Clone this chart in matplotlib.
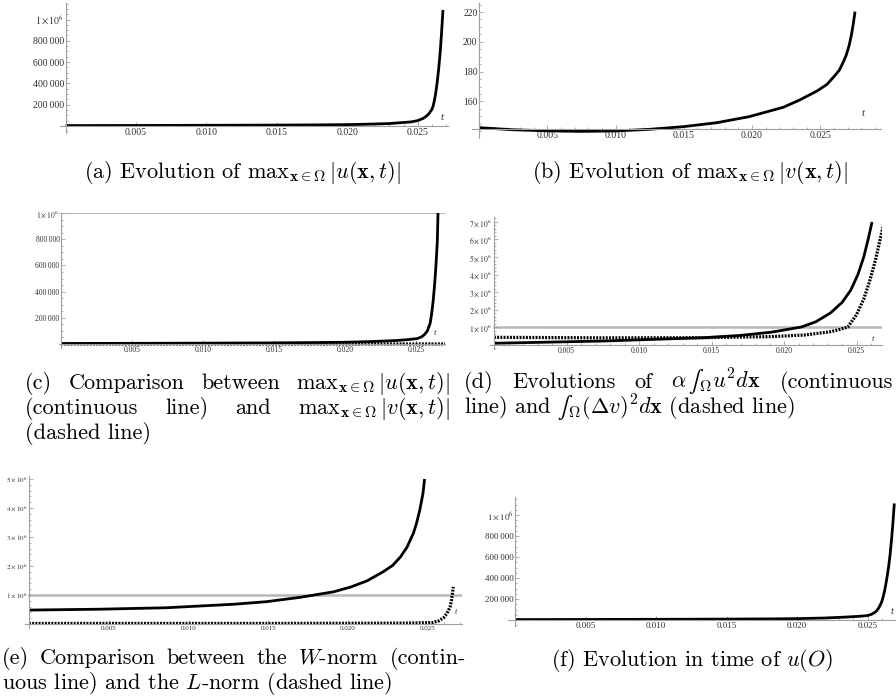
import matplotlib
matplotlib.use('Agg')
import matplotlib.pyplot as plt
from matplotlib.ticker import FixedLocator, MultipleLocator, FuncFormatter

plt.rcParams['font.family'] = ['Liberation Serif', 'DejaVu Serif']
plt.rcParams['mathtext.fontset'] = 'stix'

W, H = 896, 698
fig = plt.figure(figsize=(W / 100, H / 100), dpi=100)

# ---------------- data ----------------
t_ticks = [0.005, 0.010, 0.015, 0.020, 0.025]
t_tick_labels = ['0.005', '0.010', '0.015', '0.020', '0.025']

# (a) max |u|
ta = [0.0, 0.005, 0.010, 0.015, 0.018, 0.020, 0.021, 0.022, 0.023, 0.0235, 0.024, 0.0245, 0.025, 0.0254,
      0.0256, 0.0258, 0.0259, 0.0260, 0.0261, 0.0262, 0.0263, 0.0264, 0.0265, 0.0266, 0.0267, 0.0268]
ua = [4000, 5000, 6500, 8500, 10500, 13000, 15500, 19000, 23000, 28000, 33000, 38000, 50000, 72000,
      90000, 115000, 134000, 152000, 185000, 244000, 320000, 420000, 540000, 685000, 870000, 1090000]

# (b) max |v|
tb = [0.0, 0.0025, 0.0052, 0.0075, 0.0101, 0.0125, 0.0149, 0.0174, 0.0198, 0.0223, 0.0235, 0.0248,
      0.0255, 0.0260, 0.0264, 0.0267, 0.0269, 0.0271, 0.0272, 0.0273, 0.0274, 0.02755]
vb = [142.4, 141.0, 140.2, 139.9, 140.2, 141.3, 143.0, 145.7, 149.8, 156.1, 161.0, 167.2,
      171.5, 176.6, 181.0, 186.7, 191.0, 197.0, 201.0, 205.5, 211.0, 220.3]

# (c) comparison max|u| vs max|v|
tc = [0.0, 0.005, 0.010, 0.015, 0.020, 0.022, 0.0235, 0.0245, 0.0251, 0.0254, 0.0256, 0.0258, 0.0260,
      0.0261, 0.0262, 0.0263, 0.0264, 0.0265, 0.02655]
uc = [4000, 5000, 6500, 8500, 13000, 19000, 26000, 34000, 42000, 55000, 72000, 100000, 160000,
      230000, 320000, 440000, 590000, 780000, 1000000]
c_threshold = 1000000

# (d) alpha*int u^2 (solid) and int (Delta v)^2 (dashed)
td_s = [0.0, 0.0076, 0.0145, 0.0170, 0.0191, 0.0212, 0.0222, 0.0232, 0.0240, 0.0246, 0.0251, 0.0255,
        0.0258, 0.02607]
d_solid = [0.07e6, 0.20e6, 0.39e6, 0.52e6, 0.70e6, 1.0e6, 1.3e6, 1.8e6, 2.4e6, 3.1e6, 4.0e6, 5.0e6,
           6.0e6, 7.0e6]
td_d = [0.0, 0.0076, 0.0145, 0.0191, 0.0214, 0.0232, 0.0238, 0.0244, 0.0250, 0.0255, 0.0259, 0.0263,
        0.0266, 0.0269]
d_dashed = [0.41e6, 0.38e6, 0.39e6, 0.45e6, 0.54e6, 0.73e6, 0.85e6, 1.0e6, 1.7e6, 2.6e6, 3.6e6, 4.8e6,
            5.9e6, 7.0e6]
d_threshold = 1000000

# (e) W-norm (solid) and L-norm (dashed)
te_w = [0.0, 0.0044, 0.0086, 0.0128, 0.0149, 0.0170, 0.0191, 0.0202, 0.0212, 0.0222, 0.0228, 0.0233,
        0.0237, 0.0241, 0.0243, 0.0245, 0.0247, 0.0248]
e_w = [0.48e6, 0.51e6, 0.56e6, 0.68e6, 0.77e6, 0.92e6, 1.11e6, 1.28e6, 1.49e6, 1.80e6, 2.02e6, 2.32e6,
       2.65e6, 3.13e6, 3.48e6, 3.93e6, 4.5e6, 5.0e6]
te_l = [0.0, 0.005, 0.010, 0.015, 0.020, 0.0235, 0.0245, 0.0250, 0.0253, 0.0257, 0.0260, 0.0262, 0.0264,
        0.0265, 0.0266]
e_l = [2e4, 2e4, 2e4, 2e4, 2.5e4, 3e4, 4e4, 4.5e4, 5e4, 1.1e5, 2.2e5, 3.6e5, 5.9e5, 8.5e5, 1.28e6]
e_threshold = 1000000

# (f) u(O)
tf = [0.0, 0.005, 0.010, 0.015, 0.018, 0.020, 0.022, 0.0235, 0.0245, 0.0250, 0.0253, 0.0256, 0.0258,
      0.0260, 0.0261, 0.0262, 0.0263, 0.0264, 0.0265, 0.0266, 0.0267, 0.0268, 0.0269]
uf = [4000, 5000, 6500, 8500, 10500, 13000, 19000, 28000, 36000, 42000, 55000, 80000, 115000,
      170000, 215000, 270000, 340000, 420000, 510000, 620000, 760000, 920000, 1110000]

# ticks
ya_ticks = [200000, 400000, 600000, 800000, 1000000]
yb_ticks = [160, 180, 200, 220]
yd_ticks = [1e6, 2e6, 3e6, 4e6, 5e6, 6e6, 7e6]
ye_ticks = [1e6, 2e6, 3e6, 4e6, 5e6]

# ---------------- helpers ----------------
AX_COLOR = '#a0a0a0'
LBL_COLOR = '#303030'
GRAY_LINE = '#b8b8b8'


def yfmt(v, pos):
    if v >= 1e6 and abs(v % 1e6) < 1:
        return r'$%d\times10^{6}$' % int(round(v / 1e6))
    s = '{:,}'.format(int(round(v)))
    return s.replace(',', '\u2009')


def pix_axes(L, R, T, B, X0, SX, Y0, SY, yo, yticks, yminor, fs, tpos):
    ax = fig.add_axes([L / W, 1 - B / H, (R - L) / W, (B - T) / H])
    ax.set_xlim((L - X0) / SX, (R - X0) / SX)
    ax.set_ylim(yo - (B - Y0) / SY, yo + (Y0 - T) / SY)
    ax.patch.set_alpha(0)
    for s in ['top', 'right']:
        ax.spines[s].set_visible(False)
    ax.spines['left'].set_position(('data', 0))
    ax.spines['bottom'].set_position(('data', yo))
    for s in ['left', 'bottom']:
        ax.spines[s].set_color(AX_COLOR)
        ax.spines[s].set_linewidth(0.8)
    ax.xaxis.set_major_locator(FixedLocator(t_ticks))
    ax.xaxis.set_major_formatter(FuncFormatter(
        lambda v, p: t_tick_labels[p] if p is not None and p < len(t_tick_labels) else ''))
    ax.xaxis.set_minor_locator(MultipleLocator(0.001))
    ax.yaxis.set_major_locator(FixedLocator(yticks))
    ax.yaxis.set_major_formatter(FuncFormatter(yfmt))
    ax.yaxis.set_minor_locator(MultipleLocator(yminor))
    ax.tick_params(which='both', direction='in', color=AX_COLOR, width=0.6,
                   labelsize=fs, labelcolor=LBL_COLOR)
    ax.tick_params(which='major', length=3)
    ax.tick_params(which='minor', length=1.6)
    ax.tick_params(axis='x', pad=1.5)
    ax.tick_params(axis='y', pad=1.0)
    fig.text(tpos[0] / W, 1 - tpos[1] / H, 't', fontstyle='italic', fontsize=fs + 1,
             color=LBL_COLOR, ha='center', va='center')
    return ax


SOLID = dict(color='black', lw=2.0, solid_capstyle='butt', solid_joinstyle='round', clip_on=True)
DASHED = dict(color='black', lw=2.3, linestyle=(0, (0.6, 0.4)), clip_on=True)

# (a)
ax = pix_axes(60, 448, 3, 133, 65.6, 14080, 126, 21.3 / 2e5, 0, ya_ticks, 50000, 7, (442, 118))
ax.plot(ta, ua, **SOLID)

# (b)
ax = pix_axes(472, 881, 3, 138, 479, 13650, 129.3, 1.49, 141.3, yb_ticks, 5, 7, (863, 113))
ax.plot(tb, vb, **SOLID)

# (c)
ax = pix_axes(59, 445, 212.5, 348, 61, 14200, 344, 131 / 1e6, 0, ya_ticks, 50000, 5.5, (435, 333))
ax.axhline(c_threshold, color=GRAY_LINE, lw=1.5, zorder=1)
ax.plot(tb, vb, **DASHED)
ax.plot(tc, uc, **SOLID)

# (d)
ax = pix_axes(490, 882, 217, 349, 494, 14500, 344.5, 17.5 / 1e6, 0, yd_ticks, 200000, 5.5, (873, 339))
ax.axhline(d_threshold, xmin=(494 - 490) / (882 - 490), color=GRAY_LINE, lw=1.8, zorder=1)
ax.plot(td_s, d_solid, **SOLID)
ax.plot(td_d, d_dashed, **DASHED)

# (e)
ax = pix_axes(25, 462, 476, 628, 29, 15950, 624, 29 / 1e6, 0, ye_ticks, 200000, 5, (456, 612))
ax.axhline(e_threshold, xmin=(29 - 25) / (462 - 25), color=GRAY_LINE, lw=1.8, zorder=1)
ax.plot(te_w, e_w, **SOLID)
ax.plot(te_l, e_l, **DASHED)

# (f)
ax = pix_axes(508, 896, 497, 626, 515, 14100, 620, 21 / 2e5, 0, ya_ticks, 50000, 6.5, (892, 612))
ax.plot(tf, uf, **SOLID)

# ---------------- captions ----------------
CFS = 16
CAP = dict(fontsize=CFS, family='cmr10', math_fontfamily='cm', color='black', va='baseline')


def px(x, y):
    return x / W, 1 - y / H


def justify(tokens, x0, x1, y):
    r = fig.canvas.get_renderer()
    objs = [fig.text(*px(x0, y), tok, ha='left', **CAP) for tok in tokens]
    widths = [o.get_window_extent(r).width for o in objs]
    gap = (x1 - x0 - sum(widths)) / (len(tokens) - 1)
    x = x0
    for o, w in zip(objs, widths):
        o.set_position(px(x, y))
        x += w + gap


mx_u = r'$\mathrm{max}_{\mathbf{x}\in\Omega}\,|u(\mathbf{x},t)|$'
mx_v = r'$\mathrm{max}_{\mathbf{x}\in\Omega}\,|v(\mathbf{x},t)|$'

fig.text(*px(242, 178), '(a) Evolution of ' + mx_u, ha='center', **CAP)
fig.text(*px(690, 178), '(b) Evolution of ' + mx_v, ha='center', **CAP)

justify(['(c)', 'Comparison', 'between', mx_u], 25, 450, 389)
justify(['(continuous', 'line)', 'and', mx_v], 25, 450, 414)
fig.text(*px(25, 439), '(dashed line)', ha='left', **CAP)

justify(['(d)', 'Evolutions', 'of', '$\\alpha\\,\u222b_{\\Omega}u^2d\\mathbf{x}$', '(continuous'], 464, 893, 388)
fig.text(*px(464, 414), 'line) and $\u222b_{\\Omega}(\\Delta v)^2d\\mathbf{x}$ (dashed line)', ha='left', **CAP)

justify(['(e)', 'Comparison', 'between', 'the', r'$W$-norm', '(contin-'], 2, 466, 664)
fig.text(*px(2, 689), r'uous line) and the $L$-norm (dashed line)', ha='left', **CAP)

fig.text(*px(692, 666), r'(f) Evolution in time of $u(O)$', ha='center', **CAP)

fig.savefig('out.png', dpi=100)
